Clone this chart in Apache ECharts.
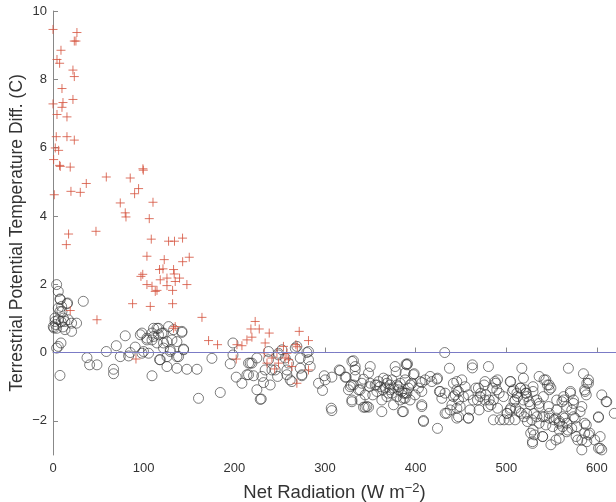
<!DOCTYPE html>
<html>
<head>
<meta charset="utf-8">
<script src="https://cdn.jsdelivr.net/npm/echarts@6/dist/echarts.min.js"></script>
<style>html,body{margin:0;padding:0;background:#fff;}#c{width:616px;height:502px;}</style>
</head>
<body>
<div id="c"></div>
<script>
const xTicks = [0, 100, 200, 300, 400, 500, 600];
const yTicks = [-2, 0, 2, 4, 6, 8, 10];
const referenceLevel = 0;

const crossPoints = [
[0,9.46],[26.4,9.37],[25.3,9.12],[23.5,9.12],[8.8,8.85],[4.4,8.58],[7.3,8.47],[22,8.27],[23.5,8.08],[9.9,7.73],
[0,7.28],[22,7.41],[11,7.32],[9.9,7.18],[4.4,6.97],[15.4,6.9],[3.6,6.32],[15.4,6.32],[23.5,6.22],[2.5,5.99],
[6.2,5.92],[0.7,5.65],[7.3,5.48],[19,5.43],[8,5.45],[58.8,5.14],[85.2,5.11],[99.2,5.38],[99.6,5.34],[36.7,4.95],
[19.8,4.72],[30.1,4.69],[1.4,4.62],[94.4,4.8],[90,4.65],[74.2,4.38],[110.3,4.4],[79.7,4.09],[80.5,3.97],[106.2,3.92],
[47.4,3.55],[17.2,3.47],[14.7,3.16],[108.4,3.32],[127.5,3.26],[134,3.26],[142.9,3.35],[103.6,2.82],[122.7,2.72],[150.3,2.79],
[143,2.66],[117.5,2.43],[133,2.43],[99,2.29],[121.3,2.45],[133.7,2.3],[118.3,2.13],[125.7,2.18],[139.6,2.18],[134.8,2.08],
[103.6,1.99],[109.2,1.94],[114.7,1.82],[125.7,1.96],[147.7,1.99],[131.9,1.82],[112.8,1.79],[87.8,1.43],[107.3,1.35],[131.9,1.43],
[19,1.23],[48.5,0.96],[164.3,1.03],[171.6,0.35],[181.5,0.23],[202.9,0.23],[208.4,0.2],[213.9,0.37],[202.1,-0.19],[134.8,0.76],
[133,0.71],[91.5,-0.19],[97,2.23],[223,0.91],[218.3,0.69],[227.5,0.69],[238.5,0.57],[219.4,0.45],[234,0.28],[271.6,0.62],
[281.8,0.35],[254.2,0.18],[267.9,0.23],[233,-0.01],[247,0],[258,-0.02],[241.5,-0.16],[256,-0.16],[259.8,-0.21],[236,-0.31],
[248.7,-0.31],[263.5,-0.41],[244.5,-0.48],[281.8,-0.51],[269,-0.9],[269.5,0.17]
];

const circlePoints = [
[4,1.99],[5.8,1.79],[7.7,1.57],[9.5,1.35],[5.8,1.3],[7.7,1.2],[33.4,1.5],[16.1,1.45],[2.2,1.01],[5.8,0.96],
[11.4,1.01],[13.2,0.91],[16.9,0.96],[20.5,0.86],[26,0.86],[0.3,0.76],[4,0.71],[13.2,0.67],[20.5,0.62],[8.8,0.28],
[5.8,0.18],[4,0.13],[7.7,-0.67],[2.2,0.91],[8,1.55],[9.9,1.2],[15.4,1.43],[1,0.72],[3,0.82],[9,0.9],[11,0.75],
[58.8,0.03],[37.5,-0.15],[40.4,-0.36],[48.5,-0.36],[66.8,-0.49],[66.8,-0.62],[69.8,0.2],[79.7,0.49],[74.2,-0.12],[85.2,0],
[83.4,-0.1],[90.7,0.16],[96.3,0.52],[98.1,-0.02],[103.6,0.37],[105.4,-0.02],[109.2,-0.68],[116.4,0.52],[114.7,0.71],[117.5,-0.21],
[121.9,0.13],[125.7,-0.41],[129.3,0.03],[136.7,-0.46],[144,0.1],[147.7,-0.49],[142.2,0.59],[136.7,-0.12],[160.5,-1.34],[158.8,-0.49],
[127.5,0.76],[121.9,0.57],[110.9,0.47],[109.2,0.57],[99.9,0.03],[131.2,0.37],[125.7,0.32],[133,0.67],
[98.1,0.57],[103.6,0.42],[110.9,0.71],[116.4,0.71],[120.2,0.57],[142.2,0.62],[136.7,0.32],[109.2,0.37],[114.7,0.28],[121.9,0.28],
[129.3,0.08],[144,0.08],[118.3,-0.21],[125.7,-0.12],[138.5,-0.12],[175.3,-0.17],[184.5,-1.17],[198.5,0.28],[198.5,-0.07],[195.5,-0.33],
[202.1,-0.72],[208.4,-0.9],[213.9,-0.65],[215.7,-0.31],
[217.5,-0.31],[221.2,-0.68],[224.9,-1.09],[229.7,-1.36],[224.9,-0.16],[230.4,-0.7],[234,-0.51],[237.7,-0.21],[239.6,-0.95],[241.5,-0.51],
[245.1,-0.51],[247.7,-0.7],[248.7,-0.07],[252.5,0.08],[256.1,-0.16],[258,-0.51],[258,-0.65],[261.6,-0.8],[259.8,-0.31],[267.2,0.13],
[269,0.18],[272.7,-0.46],[274.5,-0.65],[281.8,0.03],[283.7,-0.41],[292.9,-0.9],[297.3,-1.11],[299.2,-0.68],[307.6,-0.72],[307.6,-1.7],
[316.8,-0.53],[323.4,-0.72],[331.4,-0.24],[333.3,-0.51],[327.8,-1],[338.8,-1.09],[342.5,-0.78],[348,-0.6],[349.1,-1],[346.2,-1.58],
[342.5,-1.6],[352.7,-1.24],[357.2,-0.95],[362.7,-1.73],[363.8,-1.09],[368.3,-0.8],[371.9,-0.95],[373.8,-1.19],[378.5,-0.56],[381,-1],
[385.4,-1.73],[386.5,-1.34],[389.5,-0.34],
[237.7,0.03],[248.7,-0.02],[280,0],[281.8,-0.21],[219.4,-0.31],[215.7,-0.65],[232.2,-0.88],[228.6,-1.37],[263.5,-0.85],[274.5,-0.68],
[272.7,-0.16],[300.3,-0.8],[315.7,-0.51],[322.3,-0.72],[329.7,-0.26],[328.9,-0.95],[325.9,-1.09],[329.7,-1.39],[306.9,-1.63],
[333.3,-0.41],[333.3,-0.7],[331.4,-0.95],[337,-1.09],[340.7,-0.9],[349.9,-0.9],[344.3,-1.24],[329.7,-1.44],[338.8,-1.39],[344.3,-1.6],
[348,-1.6],[355.4,-0.95],[357.2,-1.14],[362.7,-1.39],[364.5,-0.75],[368.3,-0.9],[370.1,-1.19],[373.8,-0.8],[375.6,-1.04],[377.4,-0.41],
[379.3,-1.29],[375.6,-1.53],[382.9,-0.9],[384.7,-1.14],[386.5,-1.73],[388.4,-1.34],[390.3,-0.36],[392.1,-1.04],[395.8,-0.9],[397.6,-0.65],
[399.4,-1.24],[405,-0.85],[406.8,-1.14],[406.8,-1.53],[408.6,-1.99],[416,-0.7],[417.9,-0.85],[424.1,-0.75],[424.1,-2.22],[432.1,0],
[437.3,-0.46],[426.2,-1.14],[428.9,-1.34],[432.5,-1.19],[434.4,-1.78],[441.7,-0.9],[443.6,-1.24],[445.5,-1.63],[440,-1.53],[360.9,-1],
[366.4,-1.04],[371.9,-1.09],[381,-1.09],[386.5,-1.19],[390.3,-1.19],[368.3,-1.29],[359.1,-0.85],[379.3,-0.95],[349.9,-0.41],[388.4,-0.6],
[393.9,-1.39],[382.9,-1.39],[403.1,-1.04],
[391,-0.33],[398.4,-0.62],[388.4,-0.8],[394,-0.95],[388.4,-1.19],[406.8,-0.88],[410.5,-0.8],[423.4,-0.78],[427.1,-1.14],[406.8,-1.58],
[408.6,-2.02],[432.5,-1.78],[438.1,-1.68],[445.4,-1.09],[441.7,-1.29],[447.3,-1.39],[447.3,-1.88],[458.3,-1.92],[460,-1.68],[452.7,-1.29],
[463.7,-1.39],[469.2,-1.04],[471,-1.29],[476.5,-0.85],[476.5,-1.39],[480.2,-1.58],[485.8,-1.39],[487.6,-0.85],[489.5,-1.09],[496.9,-1.29],
[504.3,-0.85],[508,-1.09],[509.8,-1.39],[511.7,-1.19],[515.4,-1.04],[520.9,-1.09],[522.8,-1.29],
[462.6,-0.36],[462.6,-0.45],[480.3,-0.41],[517.1,-0.46],[445.4,-0.85],[450.9,-0.8],[454.6,-1],[447.2,-1.14],[458.2,-1.24],[449.1,-1.58],
[445.4,-1.92],[458.2,-1.92],[466.4,-1.04],[468.2,-1.39],[470,-1.68],[471.9,-1.19],[475.6,-0.95],[477.4,-1.24],[481.1,-1.39],[483,-1.53],
[484.8,-1.04],[488.4,-0.9],[490.3,-0.8],[492.1,-1.19],[485.8,-1.97],[490.3,-1.63],[497.5,-1.97],[501.1,-1.78],[503,-1.97],[504.8,-0.85],
[506.6,-1.14],[508.5,-1.44],[512.2,-1.29],[510.3,-1.63],[514,-1.73],[515.8,-1.04],[519.6,-1.88],[521.4,-1.19],[523.3,-2.02],[525.1,-1.44],
[526.9,-2.36],[528.8,-2.61],[518.9,-0.75],[504.8,-1.63],
[536.2,-0.7],[543.6,-0.8],[547.3,-0.95],[549.2,-1.04],[568.5,-0.46],[585.1,-0.62],[590.6,-0.8],[590.6,-0.9],[570.7,-1.19],[563.3,-1.29],
[563.3,-1.39],[586.4,-1.09],[588.2,-1.24],[605.3,-1.24],[610.8,-1.44],[619.1,-1.78],[601.6,-1.88],[583.3,-1.58],[572.2,-1.68],[574.1,-1.88],
[566.7,-2.07],[577.7,-2.17],[588.2,-2.12],[586.4,-2.36],[583.3,-2.56],[583.3,-2.85],[603.5,-2.46],[603.5,-2.8],[605.3,-2.85],[549.2,-2.7],
[529,-2.66],[531,-2.41],[540.1,-2.46],[554.8,-2.56],[558.5,-2.27],[566.7,-2.32],[572.2,-2.22],[558.5,-2.07],[551.1,-2.17],[543.6,-2.12],
[536.2,-2.07],[542.2,-1.88],[547.3,-1.92],[554.8,-1.92],[562.2,-1.88],[533.7,-1.88],[528.1,-1.97],[522.5,-1.78],[516.5,-1.78],[509.7,-1.97],
[504.3,-1.68],[500.6,-1.78],[493.2,-1.97],[555.6,-1.39],[546.5,-1.58],[536.2,-1.58],[533.6,-1.39],[540.9,-1.29],[555.6,-1.68],[566.7,-1.58],
[574.1,-1.49],[529.5,-1],[522.1,-1.19],[526.5,-1.53],[518.9,-1.39],[586.4,-2.07],[592,-2.36],[597.5,-2.56],
[588.8,-0.9],[586.9,-1.14],[610.1,-1.44],[601.7,-1.9],[601.7,-2.8],[588.8,-2.61],[541.7,-0.8],[545.4,-0.95],[547.3,-1.09],[529.5,-1.14],
[570.7,-1.14],[561.4,-1.44],[574.1,-1.39],[581.4,-1.73],[575.9,-1.92],[536.2,-1.49],[530.5,-1.78],[540.1,-1.88],[547.3,-1.78],[552.8,-1.97],
[558.7,-2.02],[564.3,-1.92],[562.2,-2.17],[567.8,-2.27],[529.5,-2.27],[540.1,-2.46],[558.5,-2.51],[577,-2.46],[578.8,-2.56],[590.8,-2.41]
];

const chart = echarts.init(document.getElementById('c'), null, {renderer: 'canvas'});
const font = 'Liberation Sans, Arial, Helvetica, sans-serif';
chart.setOption({
  animation: false,
  backgroundColor: '#ffffff',
  grid: {left: 53, right: 0, top: 11, bottom: 47, containLabel: false, outerBoundsMode: 'none'},
  xAxis: {
    type: 'value', min: 0, max: 621,
    name: 'Net Radiation (W m{sup|\u22122})',
    nameLocation: 'middle', nameGap: 27, nameMoveOverlap: false,
    nameTextStyle: {fontSize: 18.5, color: '#333', fontFamily: font,
      rich: {sup: {fontSize: 13, verticalAlign: 'top', padding: [0,0,9,0], color: '#333', fontFamily: font}}},
    axisLine: {lineStyle: {color: '#888', width: 1}},
    axisTick: {inside: true, length: 5, lineStyle: {color: '#888'}, customValues: xTicks},
    axisLabel: {fontSize: 13, color: '#333', fontFamily: font, margin: 7, customValues: xTicks},
    splitLine: {show: false}
  },
  yAxis: {
    type: 'value', min: -3, max: 10,
    name: 'Terrestrial Potential Temperature Diff. (C)',
    nameLocation: 'middle', nameGap: 27, nameRotate: 90, nameMoveOverlap: false,
    nameTextStyle: {fontSize: 17.5, color: '#333', fontFamily: font},
    axisLine: {lineStyle: {color: '#888', width: 1}},
    axisTick: {inside: true, length: 5, lineStyle: {color: '#888'}, customValues: yTicks},
    axisLabel: {fontSize: 13, color: '#333', fontFamily: font, margin: 6, customValues: yTicks,
      formatter: v => (v < 0 ? '\u2212' + Math.abs(v) : String(v))},
    splitLine: {show: false}
  },
  series: [
    {
      type: 'scatter', name: 'circles', data: circlePoints,
      symbol: 'circle', symbolSize: 10,
      itemStyle: {color: 'rgba(0,0,0,0)', borderColor: '#333333', borderWidth: 0.8},
      silent: true,
      markLine: {
        silent: true, symbol: ['none', 'none'],
        label: {show: false},
        lineStyle: {color: '#7b7bc6', width: 1, type: 'solid'},
        data: [{yAxis: referenceLevel}]
      }
    },
    {
      type: 'scatter', name: 'crosses', data: crossPoints,
      symbol: 'path://M0 5L10 5M5 0L5 10', symbolSize: 9,
      itemStyle: {color: 'rgba(0,0,0,0)', borderColor: '#d4513c', borderWidth: 1},
      silent: true
    }
  ]
});
</script>
</body>
</html>
